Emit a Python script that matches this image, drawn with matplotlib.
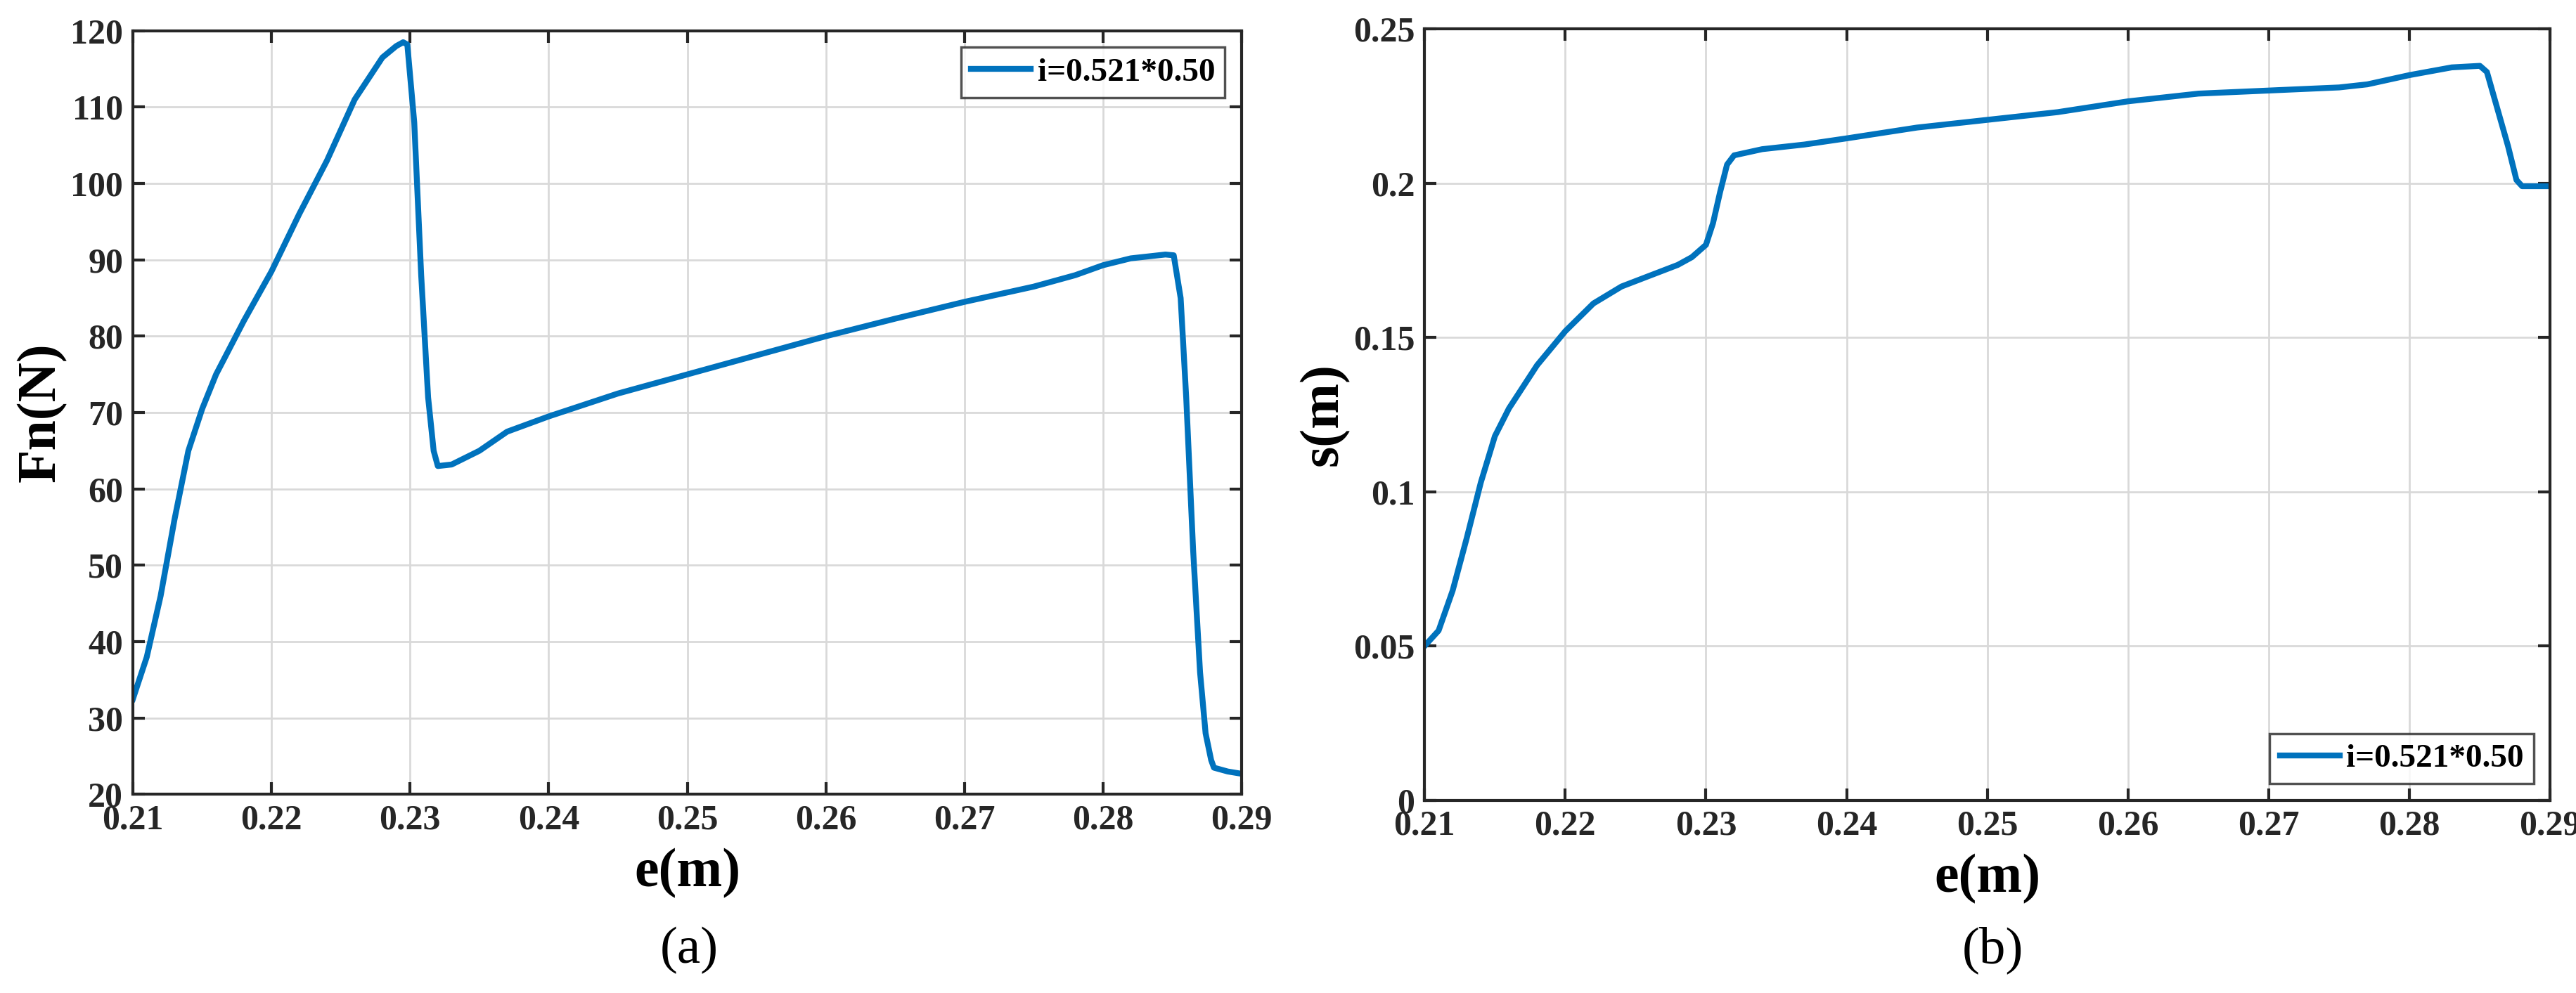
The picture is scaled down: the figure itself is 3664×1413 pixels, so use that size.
import matplotlib
matplotlib.use("Agg")
import matplotlib.pyplot as plt

e_fn = [0.21,0.211,0.212,0.213,0.214,0.215,0.216,0.218,0.220,0.222,0.224,0.226,0.228,0.229,0.2295,0.2298,0.2303,0.2308,0.2313,0.2317,0.232,0.233,0.235,0.237,0.240,0.245,0.250,0.255,0.260,0.265,0.270,0.275,0.278,0.280,0.282,0.2845,0.2851,0.2856,0.286,0.2865,0.287,0.2874,0.2878,0.288,0.289,0.290]
fn = [32.5,38,46,56,65,70.5,75,82,88.5,96,103,111,116.5,118,118.5,118.2,108,88,72,65,63,63.2,65,67.5,69.5,72.5,75,77.5,80,82.3,84.5,86.5,88,89.3,90.2,90.7,90.6,85,72,52,36,28,24.5,23.5,23,22.7]

e_s = [0.21,0.211,0.212,0.213,0.214,0.215,0.216,0.218,0.220,0.222,0.224,0.226,0.228,0.229,0.230,0.2305,0.231,0.2315,0.232,0.234,0.237,0.240,0.245,0.250,0.255,0.260,0.265,0.270,0.275,0.277,0.280,0.283,0.285,0.2855,0.286,0.287,0.2876,0.288,0.290]
s = [0.05,0.055,0.068,0.085,0.103,0.118,0.127,0.141,0.152,0.161,0.1665,0.170,0.1735,0.176,0.180,0.187,0.197,0.206,0.209,0.211,0.2125,0.2145,0.218,0.2205,0.223,0.2265,0.229,0.230,0.231,0.232,0.235,0.2375,0.238,0.236,0.228,0.212,0.201,0.199,0.199]

xticks = [0.21,0.22,0.23,0.24,0.25,0.26,0.27,0.28,0.29]
xtick_labels = ["0.21","0.22","0.23","0.24","0.25","0.26","0.27","0.28","0.29"]
fn_ticks = [20,30,40,50,60,70,80,90,100,110,120]
s_ticks = [0,0.05,0.1,0.15,0.2,0.25]
s_tick_labels = ["0","0.05","0.1","0.15","0.2","0.25"]
legend_label = "i=0.521*0.50"

plt.rcParams['font.family'] = ['Liberation Serif']
plt.rcParams['font.weight'] = 'bold'
color = '#0072BD'

fig = plt.figure(figsize=(36.64, 14.13), dpi=100)
ax1 = fig.add_axes([0.0516, 0.20, 0.4304, 0.769])
ax2 = fig.add_axes([0.553, 0.194, 0.437, 0.777])

def style(ax):
    ax.grid(True, color='#d9d9d9', linewidth=2)
    ax.set_axisbelow(True)
    for sp in ax.spines.values():
        sp.set_linewidth(3); sp.set_color('#262626')
    ax.tick_params(direction='in', length=12, width=3, labelsize=36, top=True, right=True, colors='#262626', pad=10)
    ax.set_xlim(0.21, 0.29)
    ax.set_xticks(xticks)
    ax.set_xticklabels(xtick_labels, fontweight='bold')

ax1.plot(e_fn, fn, color=color, linewidth=6, label=legend_label)
style(ax1)
ax1.set_ylim(20, 120)
ax1.set_yticks(fn_ticks)
ax1.set_yticklabels([str(t) for t in fn_ticks], fontweight='bold')
ax1.set_xlabel("e(m)", fontsize=56, fontweight='bold', labelpad=12)
ax1.set_ylabel("Fn(N)", fontsize=56, fontweight='bold', labelpad=4)
lg = ax1.legend(loc='upper right', fontsize=34, fancybox=False, edgecolor='#262626', handlelength=1.8, borderpad=0.3, handletextpad=0.2)
lg.get_frame().set_linewidth(2.5)

ax2.plot(e_s, s, color=color, linewidth=6, label=legend_label)
style(ax2)
ax2.set_ylim(0, 0.25)
ax2.set_yticks(s_ticks)
ax2.set_yticklabels(s_tick_labels, fontweight='bold')
ax2.set_xlabel("e(m)", fontsize=56, fontweight='bold', labelpad=12)
ax2.set_ylabel("s(m)", fontsize=56, fontweight='bold', labelpad=4)
lg2 = ax2.legend(loc='lower right', fontsize=34, fancybox=False, edgecolor='#262626', handlelength=1.8, borderpad=0.3, handletextpad=0.2)
lg2.get_frame().set_linewidth(2.5)

fig.text(0.2675, 0.03, "(a)", fontsize=54, fontweight='normal', ha='center')
fig.text(0.7735, 0.03, "(b)", fontsize=54, fontweight='normal', ha='center')

fig.savefig("out.png", dpi=100, facecolor='white')
